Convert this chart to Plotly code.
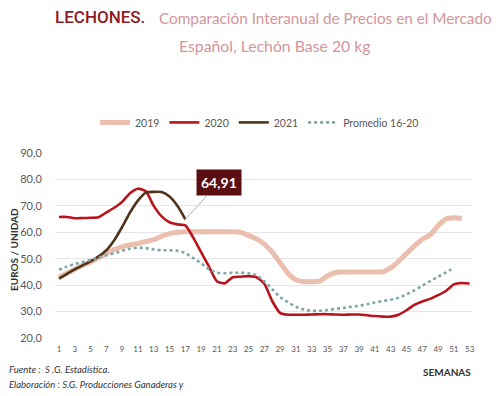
import plotly.graph_objects as go

weeks_2019 = list(range(1, 53))
vals_2019 = [43, 44.5, 46, 47.5, 48.8, 50.3, 52, 53.5, 54.5, 55.2, 55.8, 56.5, 57.2, 58.5, 59.5, 60,
             60.2, 60.2, 60.2, 60.2, 60.2, 60.2, 60.2, 60, 58.8, 57.5, 55.5, 52.5, 48.5, 44.5, 42, 41.3,
             41.3, 41.5, 43.5, 44.8, 45, 45, 45, 45, 45, 45, 46.5, 49, 52, 54.8, 57.3, 59, 62.5, 65,
             65.5, 65.3]

weeks_2020 = list(range(1, 54))
vals_2020 = [65.8, 65.8, 65.3, 65.4, 65.5, 65.7, 67.5, 69.3, 71.5, 74.8, 76.5, 75.5, 70, 66, 63.8, 63,
             62.6, 58, 52.5, 47, 41.5, 40.7, 43, 43.2, 43.4, 43, 40.5, 34, 29.5, 28.8, 28.8, 28.8,
             28.9, 29, 29, 28.9, 28.8, 28.9, 28.9, 28.6, 28.3, 28.1, 28.1, 28.8, 30.5, 32.5, 33.8,
             34.8, 36.2, 37.8, 40.3, 40.8, 40.6]

weeks_2021 = list(range(1, 18))
vals_2021 = [42.5, 44.3, 46, 47.5, 49, 50.8, 53.2, 57, 62, 67.5, 72, 75, 75.3, 75.2, 73.5, 70, 64.91]

weeks_prom = list(range(1, 52))
vals_prom = [45.8, 47, 48, 48.8, 49.5, 50.4, 51.3, 52, 53, 53.8, 54.2, 54, 53.5, 53.2, 53.2, 53, 52.2,
             50.2, 48.3, 46, 44.7, 44.5, 44.7, 44.7, 44.5, 43.8, 41.5, 38.5, 35.5, 33.5, 31.8, 30.8,
             30.3, 30.3, 30.6, 31, 31.4, 31.8, 32.2, 32.8, 33.4, 34, 34.5, 35.2, 36.5, 38, 39.8, 41.5,
             43.2, 44.8, 46.5]

y_ticks = [20, 30, 40, 50, 60, 70, 80, 90]
y_tick_labels = ["20,0", "30,0", "40,0", "50,0", "60,0", "70,0", "80,0", "90,0"]
x_ticks = list(range(1, 54, 2))

label_week = 17
label_text = "64,91"

FONT = "Lato, 'Open Sans', sans-serif"
TFONT = "Lato, sans-serif"

fig = go.Figure()
fig.add_trace(go.Scatter(x=weeks_2019, y=vals_2019, mode="lines", name="2019",
                         line=dict(color="#eabfae", width=5, shape="spline", smoothing=0.6)))
fig.add_trace(go.Scatter(x=weeks_2020, y=vals_2020, mode="lines", name="2020",
                         line=dict(color="#b8141c", width=2.6, shape="spline", smoothing=0.6)))
fig.add_trace(go.Scatter(x=weeks_2021, y=vals_2021, mode="lines", name="2021",
                         line=dict(color="#4e3418", width=2.6, shape="spline", smoothing=0.6)))
fig.add_trace(go.Scatter(x=weeks_prom, y=vals_prom, mode="lines", name="Promedio 16-20",
                         line=dict(color="#7fa6a8", width=2.6, dash="dot", shape="spline", smoothing=0.6)))

# page body has an 8px margin: the figure starts at (8, 8)
OFF = 8
W, H = 500 - OFF, 396 - OFF
L, R, T, B = 55 - OFF, 28, 152.7 - OFF, 57.7
PW, PH = W - L - R, H - T - B


def px(xp):
    return (xp - OFF - L) / PW


def py(yp):
    return (H - B - (yp - OFF)) / PH


annotations = [
    dict(text="LECHONES.", x=px(53), y=py(16), xanchor="left", yanchor="middle",
         font=dict(family="Roboto, sans-serif", size=17, color="#8e1b1f", weight=500)),
    dict(text="Comparación Interanual de Precios en el Mercado", x=px(494), y=py(17),
         xanchor="right", yanchor="middle", font=dict(family=TFONT, size=15.3, color="#d3959a")),
    dict(text="Español, Lechón Base 20 kg", x=px(275), y=py(45), xanchor="center",
         yanchor="middle", font=dict(family=TFONT, size=15.8, color="#d3959a")),
    dict(text="<b>EUROS / UNIDAD</b>", x=px(14), y=py(250), textangle=-90, xanchor="center",
         yanchor="middle", font=dict(family=FONT, size=10, color="#333333")),
    dict(text="<b>SEMANAS</b>", x=px(473), y=py(372), xanchor="right", yanchor="middle",
         font=dict(family=FONT, size=10, color="#333333")),
    dict(text="<i>Fuente :  S .G. Estadística.</i>", x=px(7), y=py(370), xanchor="left",
         yanchor="middle", font=dict(family=FONT, size=9.5, color="#333333")),
    dict(text="<i>Elaboración : S.G. Producciones Ganaderas y</i>", x=px(7), y=py(385),
         xanchor="left", yanchor="middle", font=dict(family=FONT, size=9.5, color="#333333")),
]
for a in annotations:
    a.update(xref="paper", yref="paper", showarrow=False)

annotations.append(dict(
    x=label_week, y=vals_2021[-1], xref="x", yref="y", text="<b>" + label_text + "</b>",
    showarrow=True, arrowhead=0, arrowwidth=1, arrowcolor="#9fb8c8", ax=34, ay=-37,
    bgcolor="#5c0f12", borderpad=4, font=dict(family=FONT, size=14, color="white"),
))

fig.update_layout(
    width=W, height=H, margin=dict(l=L, r=R, t=T, b=B, autoexpand=False),
    paper_bgcolor="white", plot_bgcolor="white",
    showlegend=True,
    legend=dict(orientation="h", x=px(95), y=py(122), xanchor="left", yanchor="middle",
                font=dict(family=FONT, size=10.5, color="#595959"), itemwidth=30,
                bgcolor="rgba(0,0,0,0)", tracegroupgap=0),
    annotations=annotations,
    xaxis=dict(range=[0.5, 53.3], tickmode="array", tickvals=x_ticks,
               ticktext=[str(v) for v in x_ticks], showgrid=False, zeroline=False,
               showline=False, ticks="outside", ticklen=3, tickcolor="rgba(0,0,0,0)",
               tickfont=dict(family=FONT, size=8, color="#595959")),
    yaxis=dict(range=[20, 90], tickmode="array", tickvals=y_ticks, ticktext=y_tick_labels,
               showgrid=True, gridcolor="#e6e6e6", gridwidth=1, zeroline=False, showline=False,
               ticks="outside", ticklen=10, tickcolor="rgba(0,0,0,0)",
               tickfont=dict(family=FONT, size=11, color="#595959")),
)

fig.write_html("out.html")
